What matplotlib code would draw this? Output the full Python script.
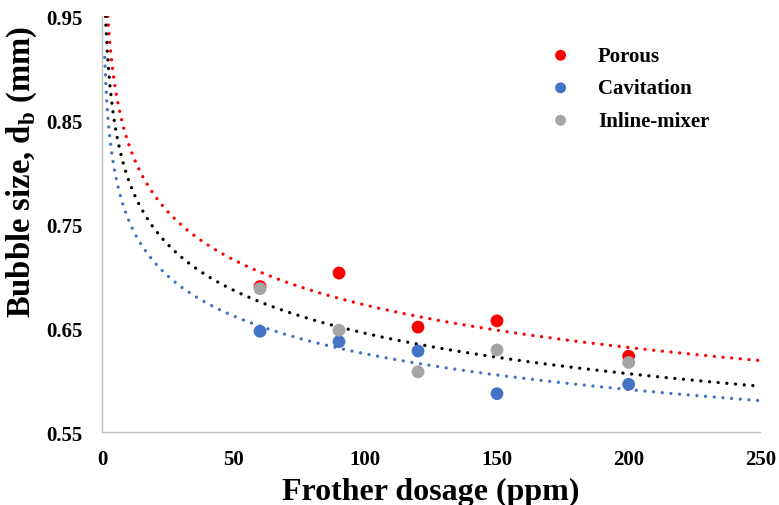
import numpy as np
import matplotlib
matplotlib.use("Agg")
from matplotlib import pyplot as plt

dosage = [60, 90, 120, 150, 200]
porous = [0.690, 0.703, 0.651, 0.657, 0.623]
cavitation = [0.647, 0.637, 0.628, 0.587, 0.596]
inline_mixer = [0.688, 0.648, 0.608, 0.629, 0.617]

plt.rcParams['font.family'] = ['Liberation Serif']
plt.rcParams['font.weight'] = 'bold'
plt.rcParams['mathtext.fontset'] = 'custom'
plt.rcParams['mathtext.rm'] = 'Liberation Serif:bold'
plt.rcParams['mathtext.bf'] = 'Liberation Serif:bold'


def power_fit(x, y):
    # Excel style power trendline: ln y = ln a + b ln x
    b, ln_a = np.polyfit(np.log(x), np.log(y), 1)
    return np.exp(ln_a), b


fig = plt.figure(figsize=(7.79, 5.06), dpi=100)
ax = fig.add_axes([0.131, 0.144, 0.845, 0.822])

xs = np.linspace(1, 250, 500)
series = [
    ('Porous', porous, '#FF0000', '#FF0000'),
    ('Cavitation', cavitation, '#4472C4', '#4472C4'),
    ('Inline-mixer', inline_mixer, '#A5A5A5', 'black'),
]
for name, ys, col, line_col in series:
    a, b = power_fit(dosage, ys)
    ax.plot(xs, a * xs ** b, color=line_col, lw=2.4, linestyle=(0, (0.01, 2.6)),
            dash_capstyle='round', zorder=2)
for name, ys, col, line_col in series:
    ax.scatter(dosage, ys, s=85, color=col, label=name, zorder=3, edgecolors='none')

ax.set_xlim(0, 250)
ax.set_ylim(0.55, 0.95)
ax.set_xticks([0, 50, 100, 150, 200, 250])
ax.set_yticks([0.55, 0.65, 0.75, 0.85, 0.95])
ax.set_yticklabels(['0.55', '0.65', '0.75', '0.85', '0.95'])
ax.tick_params(length=0, labelsize=15)
ax.tick_params(axis='y', pad=14)
ax.tick_params(axis='x', pad=12)
for lab in ax.get_xticklabels() + ax.get_yticklabels():
    lab.set_fontweight('bold')
for side in ['top', 'right']:
    ax.spines[side].set_visible(False)
for side in ['left', 'bottom']:
    ax.spines[side].set_color('#BFBFBF')
    ax.spines[side].set_linewidth(1)

ax.set_xlabel('Frother dosage (ppm)', fontsize=23, fontweight='bold', labelpad=6)
ax.set_ylabel(r'Bubble size, d$_{\mathrm{b}}$ (mm)', fontsize=23.5, fontweight='bold')
ax.yaxis.set_label_coords(-0.096, 0.627)

leg = fig.legend(loc='upper left', bbox_to_anchor=(521 / 779, 1 - 28 / 506), frameon=False,
                 prop={'size': 15, 'weight': 'bold'}, labelspacing=0.6,
                 handletextpad=0.8, markerscale=0.85)

fig.savefig('out.png', dpi=100)
